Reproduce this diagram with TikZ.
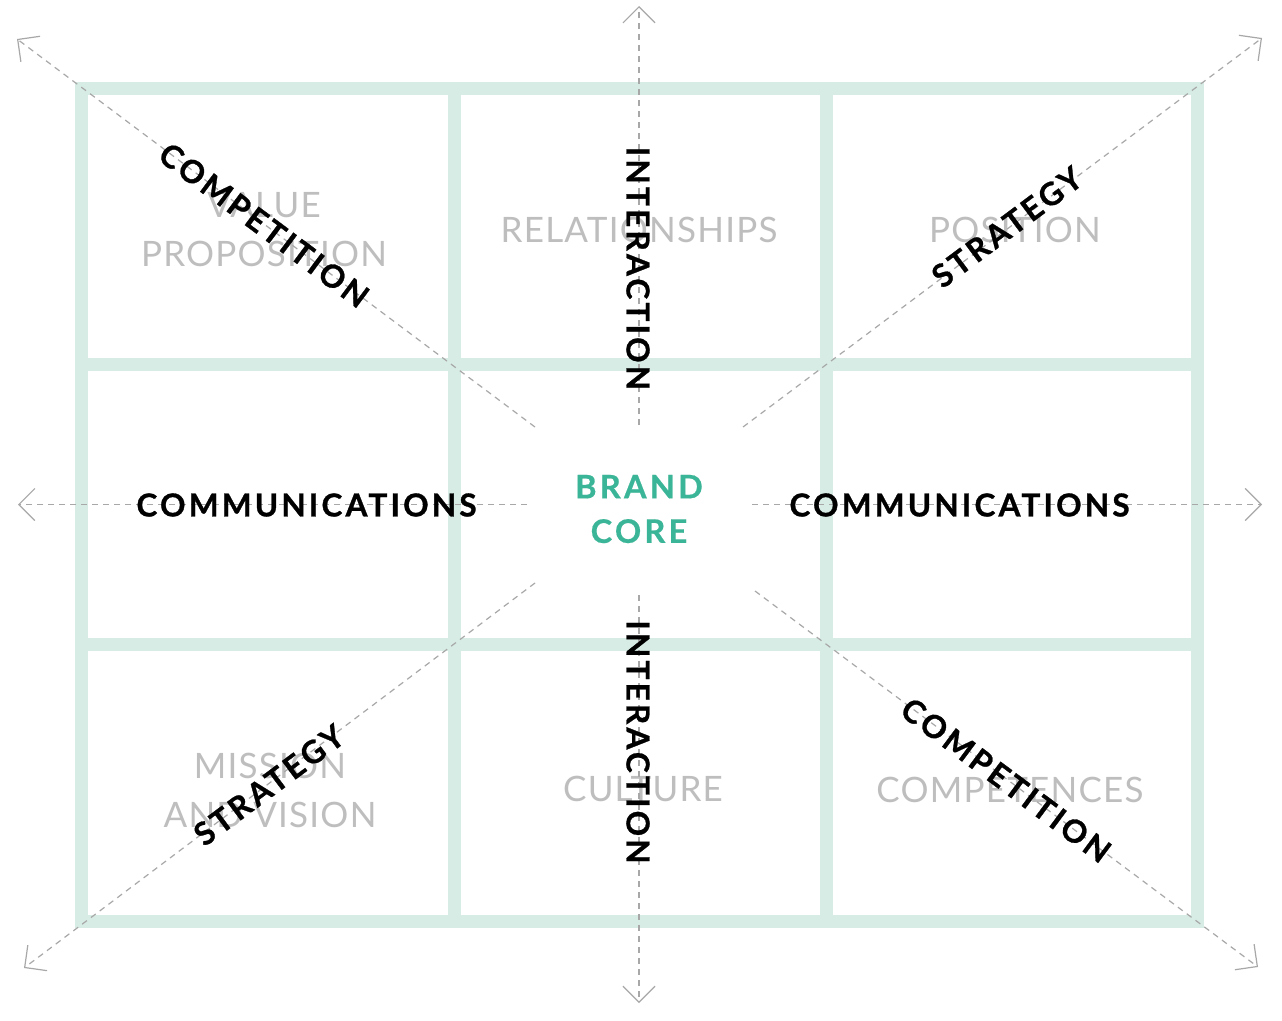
\documentclass[tikz,border=0pt]{standalone}
\usepackage{fontspec}
\setmainfont{Lato}
\newfontfamily\lblfont[LetterSpace=10, BoldFeatures={FakeBold=0.9}]{Lato}
\newfontfamily\brandfont[LetterSpace=10, BoldFeatures={FakeBold=0.6}]{Lato}
\newfontfamily\greyfont[LetterSpace=3.5]{Lato}
\usetikzlibrary{arrows.meta}
\definecolor{mint}{RGB}{214,236,229}
\definecolor{dashgrey}{RGB}{168,168,168}
\definecolor{labelgrey}{RGB}{190,190,190}
\definecolor{brandteal}{RGB}{59,181,151}
\begin{document}
\begin{tikzpicture}[x=1pt,y=-1pt,
  gridline/.style={draw=mint, line width=13pt},
  axis/.style={draw=dashgrey, line width=1.2pt, dash pattern=on 6pt off 5pt,
    -{Straight Barb[length=16pt,width=32pt,line width=1.2pt]}},
  blacklabel/.style={font={\lblfont\bfseries\fontsize{31.6}{37}\selectfont}, text=black, inner sep=0pt},
  greylabel/.style={font={\greyfont\fontsize{35}{49}\selectfont}, text=labelgrey, align=center, inner sep=0pt},
  brandlabel/.style={font={\brandfont\bfseries\fontsize{32.5}{44.5}\selectfont}, text=brandteal, align=center, inner sep=0pt}]
\useasboundingbox (0,0) rectangle (1282,1020);
\fill[white] (0,0) rectangle (1282,1020);
% grid
\draw[gridline, line join=miter] (81,88) rectangle (1197,921);
\draw[gridline] (454,88) -- (454,921);
\draw[gridline] (826,88) -- (826,921);
\draw[gridline] (81,364) -- (1197,364);
\draw[gridline] (81,644) -- (1197,644);
% grey labels
\node[greylabel] (vp) at (264,229.5) {VALUE\\PROPOSITION};
\node[greylabel] (rel) at (639,230) {RELATIONSHIPS};
\node[greylabel] (pos) at (1015,230) {POSITION};
\node[greylabel] (mv) at (270,790) {MISSION\\AND VISION};
\node[greylabel] (cul) at (643,789) {CULTURE};
\node[greylabel] (cmp) at (1010,790) {COMPETENCES};
% axis coordinates
\coordinate (uS) at (639,425);   \coordinate (uE) at (639,6);
\coordinate (dS) at (639,595);   \coordinate (dE) at (639,1003);
\coordinate (lS) at (527,504.5); \coordinate (lE) at (18,504.5);
\coordinate (rS) at (752,504.5); \coordinate (rE) at (1262,504.5);
\coordinate (ulS) at (535,427);  \coordinate (ulE) at (17,39);
\coordinate (urS) at (743,427);  \coordinate (urE) at (1262,38);
\coordinate (dlS) at (535,583);  \coordinate (dlE) at (24,968);
\coordinate (drS) at (755,591);  \coordinate (drE) at (1258,967);
\draw[axis] (uS) -- (uE);
\draw[axis] (dS) -- (dE);
\draw[axis] (lS) -- (lE);
\draw[axis] (rS) -- (rE);
\draw[axis] (ulS) -- (ulE);
\draw[axis] (urS) -- (urE);
\draw[axis] (dlS) -- (dlE);
\draw[axis] (drS) -- (drE);
% black labels
\node[blacklabel, rotate=-90] (int1) at (638,268.5) {INTERACTION};
\node[blacklabel, rotate=-90] (int2) at (638,742) {INTERACTION};
\node[blacklabel] (com1) at (306.5,505) {COMMUNICATIONS};
\node[blacklabel] (com2) at (959.5,505) {COMMUNICATIONS};
\node[blacklabel, rotate=-36.7] (cpt1) at (264,225) {COMPETITION};
\node[blacklabel, rotate=-36.7] (cpt2) at (1006,780) {COMPETITION};
\node[blacklabel, rotate=36.7] (str1) at (1007,227) {STRATEGY};
\node[blacklabel, rotate=36.7] (str2) at (269,785) {STRATEGY};
% brand core
\node[brandlabel] (brand) at (639,509) {BRAND\\CORE};
\end{tikzpicture}
\end{document}
